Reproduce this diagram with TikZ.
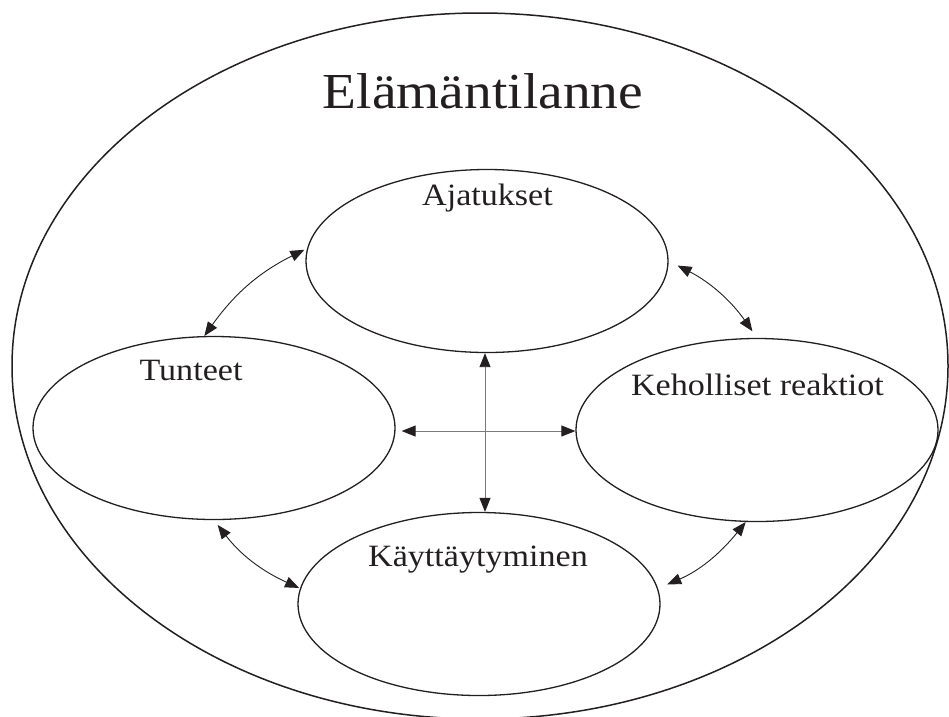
\documentclass[tikz,border=0pt]{standalone}
\usepackage{fontspec}
\newfontfamily\lblfont[FakeStretch=1.1]{Liberation Serif}
\usetikzlibrary{arrows.meta,shapes.geometric}
\definecolor{ink}{HTML}{231F20}
\definecolor{shaft}{HTML}{7A7A7A}
\begin{document}
\begin{tikzpicture}[x=1pt,y=-1pt,
  bubble/.style={ellipse,draw=ink,line width=1.3pt,minimum width=362pt,minimum height=183pt,inner sep=0pt},
  lbl/.style={anchor=base,text=ink,font=\lblfont\fontsize{31}{37}\selectfont,inner sep=0pt},
  tip/.style={Triangle[length=14pt,width=11pt,color=ink]},
  link/.style={{Triangle[length=14pt,width=11pt,color=ink]}-{Triangle[length=14pt,width=11pt,color=ink]},line width=0.9pt,draw=ink},
  axis/.style={link,draw=shaft}]
\useasboundingbox (0,0) rectangle (949,716);
% outer situation ellipse, cut by the page edge at the bottom
\begin{scope}
  \clip (0,0) rectangle (949,716);
  \node[ellipse,draw=ink,line width=1.5pt,minimum width=936pt,minimum height=706pt,inner sep=0pt] (life) at (480,366) {};
\end{scope}
\node[anchor=base,text=ink,font=\lblfont\fontsize{50.4}{60}\selectfont,inner sep=0pt] (title) at (483,108) {Elämäntilanne};
% the four areas
\node[bubble] (ajat) at (487,261) {};
\node[bubble] (tunt) at (214,428) {};
\node[bubble] (keho) at (757,430) {};
\node[bubble] (kayt) at (479,604) {};
\node[lbl] (tajat) at (487.5,205) {Ajatukset};
\node[lbl] (ttunt) at (191,380) {Tunteet};
\node[lbl] (tkeho) at (757.5,395) {Keholliset reaktiot};
\node[lbl] (tkayt) at (478,566) {Käyttäytyminen};
% cross in the middle
\coordinate (hub) at (485,431);
\draw[axis] (ajat.south -| hub) -- (kayt.north -| hub);
\draw[axis,shorten <=6pt] (tunt.east |- hub) -- (keho.west |- hub);
% curved links round the ring
\draw[link,shorten <=3pt] (ajat.176) to[bend right=14] (tunt.96);
\draw[link,shorten <=10pt,shorten >=8pt] (ajat.east) to[bend left=14] (keho.north);
\draw[link,shorten <=6pt,shorten >=1pt] (tunt.south) to[bend right=14] (kayt.175);
\draw[link,shorten >=10pt] (keho.263) to[bend left=14] (kayt.5);
\end{tikzpicture}
\end{document}
